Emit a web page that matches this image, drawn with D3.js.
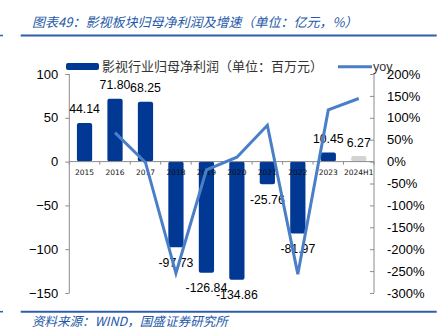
<!DOCTYPE html>
<html><head><meta charset="utf-8">
<script src="https://cdn.jsdelivr.net/npm/d3@7"></script>
<style>
html,body{margin:0;padding:0;background:#fff;}
svg{display:block;}
</style>
</head><body>
<svg id="chart" width="448" height="334"></svg>
<script>
const categories = ["2015","2016","2017","2018","2019","2020","2021","2022","2023","2024H1"];
const profit = [44.14, 71.80, 68.25, -97.73, -126.84, -134.86, -25.76, -81.97, 10.45, 6.27];
const profitLabels = ["44.14","71.80","68.25","-97.73","-126.84","-134.86","-25.76","-81.97","10.45","6.27"];
const yoy = [null, 66, -2, -255, -19, 10, 83, -257, 118, 144];
const leftTicks = [100, 50, 0, -50, -100, -150];
const rightTicks = [200, 150, 100, 50, 0, -50, -100, -150, -200, -250, -300];
const title = "图表49：影视板块归母净利润及增速（单位：亿元，%）";
const source = "资料来源：WIND，国盛证券研究所";
const barLegend = "影视行业归母净利润（单位：百万元）";
const lineLegend = "yoy";

const svg = d3.select("#chart");
const X0 = 69.3, X1 = 374, YT = 74, YB = 293;
const barColor = "#003893", lightBar = "#d3d3d3", lineColor = "#4a7fc8", blue = "#2559a8";
const cjk = "'Noto Sans CJK SC', 'Noto Sans', sans-serif";
const latin = "'Liberation Sans', Arial, sans-serif";

const x = d3.scaleBand().domain(categories).range([X0, X1]).paddingInner(0.5).paddingOuter(0.25);
const yL = d3.scaleLinear().domain([-150, 100]).range([YB, YT]);
const yR = d3.scaleLinear().domain([-300, 200]).range([YB, YT]);

// title and rules
svg.append("text").attr("x", 32).attr("y", 26.5).text(title)
  .attr("font-family", cjk).attr("font-style", "italic").attr("font-size", 13).attr("fill", blue);
[35.5, 311.7].forEach(yy => {
  svg.append("line").attr("x1", 20.7).attr("x2", 436.7).attr("y1", yy).attr("y2", yy)
    .attr("stroke", "#2e5fa8").attr("stroke-width", 2);
  svg.append("line").attr("x1", 0).attr("x2", 3).attr("y1", yy).attr("y2", yy)
    .attr("stroke", "#2e5fa8").attr("stroke-width", 1.5);
});
svg.append("text").attr("x", 31.7).attr("y", 326).text(source)
  .attr("font-family", cjk).attr("font-style", "italic").attr("font-size", 12.6).attr("fill", blue);

// axes
const leftAxis = d3.axisLeft(yL).tickValues(leftTicks).tickSize(4).tickFormat(d3.format("d"));
const gL = svg.append("g").attr("transform", `translate(${X0},0)`).call(leftAxis);
gL.select(".domain").attr("stroke", "#8c8c8c").attr("d", `M-0,${YT}V${YB}`);
gL.selectAll(".tick line").attr("stroke", "#8c8c8c");
gL.selectAll(".tick text").attr("x", -11).attr("font-family", latin).attr("font-size", 13).attr("fill", "#000");

const rightAxis = d3.axisLeft(yR).tickValues(rightTicks).tickSize(4).tickFormat(d => d + "%");
const gR = svg.append("g").attr("transform", `translate(${X1},0)`).call(rightAxis);
gR.select(".domain").attr("stroke", "#8c8c8c").attr("d", `M-0,${YT}V${YB}`);
gR.selectAll(".tick line").attr("stroke", "#8c8c8c");
gR.selectAll(".tick text").attr("x", 13).attr("text-anchor", "start").attr("font-family", latin).attr("font-size", 13).attr("fill", "#000");

// bars
svg.append("g").selectAll("rect").data(profit).join("rect")
  .attr("x", (d, i) => x(categories[i]))
  .attr("width", x.bandwidth())
  .attr("y", d => Math.min(yL(d), yL(0)))
  .attr("height", d => Math.abs(yL(d) - yL(0)))
  .attr("rx", 2)
  .attr("fill", (d, i) => i === categories.length - 1 ? lightBar : barColor);

// zero line and category ticks
const y0 = yL(0);
svg.append("line").attr("x1", X0).attr("x2", X1).attr("y1", y0).attr("y2", y0).attr("stroke", "#8c8c8c");
const step = x.step();
const bounds = d3.range(categories.length + 1).map(i => X0 + i * step);
svg.append("g").selectAll("line").data(bounds).join("line")
  .attr("x1", d => d).attr("x2", d => d).attr("y1", y0).attr("y2", y0 + 3).attr("stroke", "#8c8c8c");

svg.append("g").selectAll("text").data(categories).join("text")
  .attr("x", d => x(d) + x.bandwidth() / 2).attr("y", y0 + 13.5)
  .attr("text-anchor", "middle").attr("font-family", "'DejaVu Sans', sans-serif").attr("font-size", 7.5)
  .attr("fill", "#111").text(d => d);

// data labels
svg.append("g").selectAll("text").data(profit).join("text")
  .attr("x", (d, i) => x(categories[i]) + x.bandwidth() / 2)
  .attr("y", d => d >= 0 ? yL(d) - 9.5 : yL(d) + 19.5)
  .attr("text-anchor", "middle").attr("font-family", latin).attr("font-size", 12.3).attr("fill", "#000")
  .text((d, i) => profitLabels[i]);

// yoy line
const line = d3.line().defined(d => d[1] !== null)
  .x(d => x(d[0]) + x.bandwidth() / 2).y(d => yR(d[1]));
svg.append("path").datum(categories.map((c, i) => [c, yoy[i]]))
  .attr("d", line).attr("fill", "none").attr("stroke", lineColor).attr("stroke-width", 3)
  .attr("stroke-linejoin", "miter");

// legend
svg.append("rect").attr("x", 66).attr("y", 63).attr("width", 33).attr("height", 7).attr("rx", 2).attr("fill", barColor);
svg.append("text").attr("x", 102).attr("y", 71).text(barLegend)
  .attr("font-family", cjk).attr("font-size", 13).attr("fill", "#333");
svg.append("line").attr("x1", 338).attr("x2", 372).attr("y1", 66.7).attr("y2", 66.7)
  .attr("stroke", lineColor).attr("stroke-width", 3);
svg.append("text").attr("x", 373).attr("y", 71).text(lineLegend)
  .attr("font-family", latin).attr("font-size", 12.5).attr("fill", "#333");
</script>
</body></html>
